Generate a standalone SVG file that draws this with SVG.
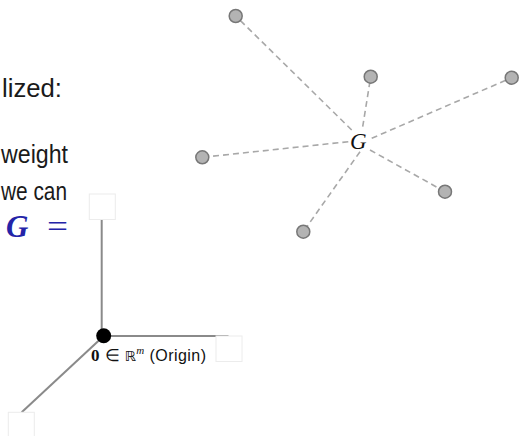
<svg xmlns="http://www.w3.org/2000/svg" width="520" height="436" viewBox="0 0 520 436">
  <style>
    .prose { font-family: "Liberation Sans", Arial, sans-serif; font-size: 26px; fill: #1a1a1a; }
    .math-blue { font-family: "Liberation Serif", "Times New Roman", serif; font-size: 31px; fill: #2424a8; }
    .axis { stroke: #8a8a8a; stroke-width: 2; fill: none; }
    .slot { fill: #ffffff; stroke: #ececec; stroke-width: 1; }
    .spoke { stroke: #a8a8a8; stroke-width: 1.6; stroke-dasharray: 6 4; fill: none; }
    .pt { fill: #b3b3b3; stroke: #777777; stroke-width: 1.5; }
    .lbl { font-family: "Liberation Serif", "Times New Roman", serif; font-size: 17px; fill: #111; }
    .bb { font-family: "DejaVu Sans", sans-serif; font-size: 14px; fill: #111; }
  </style>

  <!-- running text at the left edge -->
  <g id="prose">
    <text class="prose" x="2" y="97" textLength="60" lengthAdjust="spacingAndGlyphs">lized:</text>
    <text class="prose" x="1" y="162.5" textLength="67" lengthAdjust="spacingAndGlyphs">weight</text>
    <text class="prose" x="1" y="200" textLength="66" lengthAdjust="spacingAndGlyphs">we can</text>
    <text class="math-blue" x="6" y="237" font-weight="bold" font-style="italic">G</text>
    <text class="math-blue" x="47" y="237" textLength="21" lengthAdjust="spacingAndGlyphs">=</text>
  </g>

  <!-- coordinate axes -->
  <g id="connectors">
    <line class="axis" x1="101.7" y1="219.5" x2="101.7" y2="336"/>
    <line class="axis" x1="103.7" y1="336" x2="228.5" y2="336"/>
    <line class="axis" x1="103.7" y1="336" x2="21.7" y2="412.3"/>

    <!-- spokes from G to the points -->
    <line class="spoke" x1="351.7" y1="130" x2="235.7" y2="16"/>
    <line class="spoke" x1="362.7" y1="126.7" x2="370.7" y2="76.7"/>
    <line class="spoke" x1="371.7" y1="138.3" x2="511.7" y2="77.7"/>
    <line class="spoke" x1="348.3" y1="141.7" x2="202.3" y2="157.3"/>
    <line class="spoke" x1="370" y1="150" x2="445" y2="191.7"/>
    <line class="spoke" x1="360" y1="151.7" x2="303.3" y2="231.7"/>
  </g>

  <!-- axis end slots -->
  <g id="slot-top"><rect class="slot" x="89.3" y="194" width="26" height="25.5"/></g>
  <g id="slot-right"><rect class="slot" x="216" y="336" width="26" height="25.5"/></g>
  <g id="slot-bottom"><rect class="slot" x="8.3" y="412.3" width="26" height="25.5"/></g>

  <!-- origin -->
  <g id="origin">
    <circle cx="103.7" cy="335.7" r="7.5" fill="#000"/>
    <text class="lbl" x="91" y="361" textLength="115" lengthAdjust="spacing"><tspan font-weight="bold">0</tspan> ∈ <tspan class="bb">ℝ</tspan><tspan font-style="italic" font-size="11" dy="-7">m</tspan><tspan dy="7" font-family="Liberation Sans, Arial, sans-serif" font-size="16"> (Origin)</tspan></text>
  </g>

  <!-- centroid and its points -->
  <g id="centroid">
    <text x="358.3" y="148.5" text-anchor="middle" font-family="Liberation Serif, 'Times New Roman', serif" font-style="italic" font-size="23" fill="#111">G</text>
  </g>
  <g id="p1"><circle class="pt" cx="235.7" cy="16" r="6.5"/></g>
  <g id="p2"><circle class="pt" cx="370.7" cy="76.7" r="6.5"/></g>
  <g id="p3"><circle class="pt" cx="511.7" cy="77.7" r="6.5"/></g>
  <g id="p4"><circle class="pt" cx="202.3" cy="157.3" r="6.5"/></g>
  <g id="p5"><circle class="pt" cx="445" cy="191.7" r="6.5"/></g>
  <g id="p6"><circle class="pt" cx="303.3" cy="231.7" r="6.5"/></g>
</svg>
